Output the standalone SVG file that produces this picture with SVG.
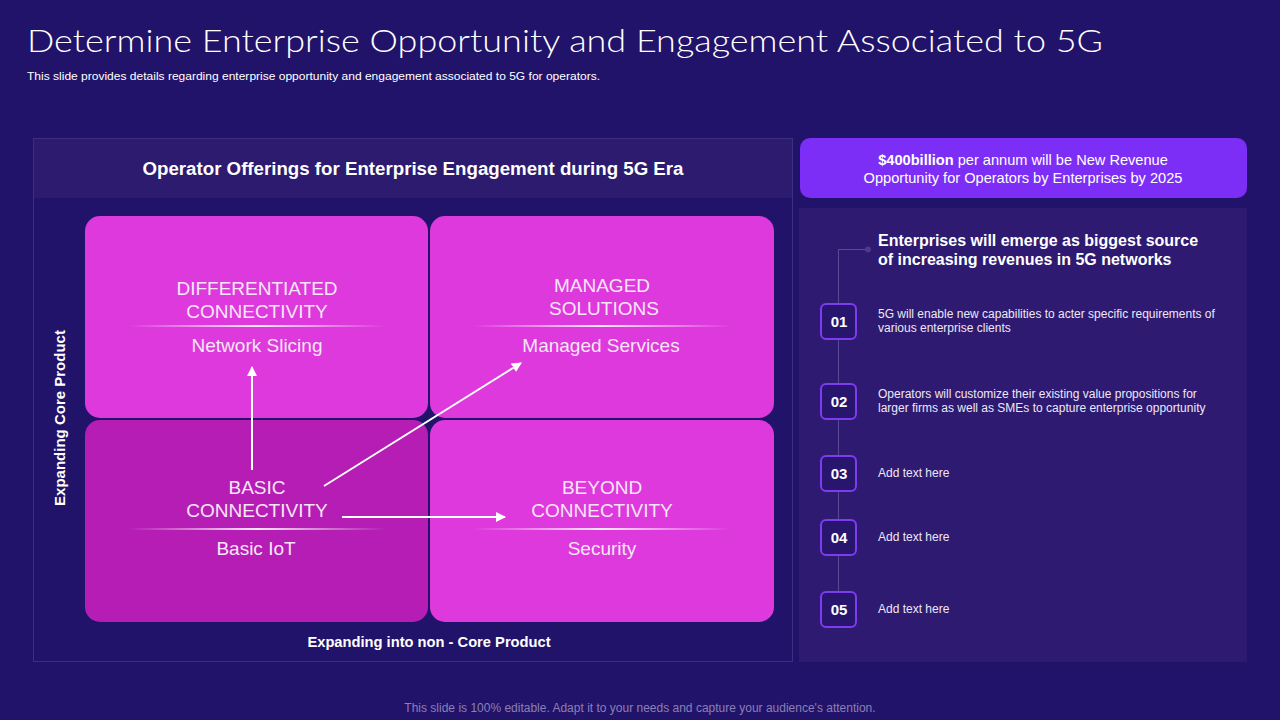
<svg xmlns="http://www.w3.org/2000/svg" width="1280" height="720" viewBox="0 0 1280 720">
<defs>
<linearGradient id="div" x1="0" x2="1" y1="0" y2="0">
<stop offset="0" stop-color="#ffffff" stop-opacity="0"/>
<stop offset="0.5" stop-color="#ffffff" stop-opacity="0.9"/>
<stop offset="1" stop-color="#ffffff" stop-opacity="0"/>
</linearGradient>
<marker id="ah" viewBox="0 0 10 10" refX="9" refY="5" markerWidth="5" markerHeight="5" orient="auto">
<path d="M0,0 L10,5 L0,10 z" fill="#ffffff"/>
</marker>
</defs>
<style>
.t{font-family:"Liberation Sans",Arial,sans-serif;fill:#ffffff}
.q{font-family:"Liberation Sans",Arial,sans-serif;fill:#f7e6f7;font-size:19px;text-anchor:middle}
.b{font-weight:bold}
.badge{fill:#28166e;stroke:#7d3cf0;stroke-width:2}
.num{font-family:"Liberation Sans",Arial,sans-serif;fill:#ffffff;font-size:15px;font-weight:bold;text-anchor:middle}
.item{font-family:"Liberation Sans",Arial,sans-serif;fill:#ece8f8;font-size:12px}
.conn{stroke:#ffffff;stroke-width:2;fill:none;marker-end:url(#ah)}
</style>
<rect width="1280" height="720" fill="#22136a"/>
<g id="title">
<text x="27" y="52" font-family="Lato,'Open Sans',sans-serif" font-weight="300" font-size="32" fill="#ffffff" textLength="1076" lengthAdjust="spacingAndGlyphs">Determine Enterprise Opportunity and Engagement Associated to 5G</text>
<text x="27" y="80" class="t" font-size="11" textLength="573" lengthAdjust="spacingAndGlyphs">This slide provides details regarding enterprise opportunity and engagement associated to 5G for operators.</text>
</g>
<g id="left-panel">
<rect x="33.5" y="138.5" width="759" height="523" fill="#22136a" stroke="#3d2f80" stroke-width="1"/>
<rect x="34" y="139" width="758" height="59" fill="#2c1b6e"/>
<text x="413" y="175" class="t b" font-size="18.7" text-anchor="middle">Operator Offerings for Enterprise Engagement during 5G Era</text>
<text transform="translate(65,418) rotate(-90)" class="t b" font-size="15" text-anchor="middle">Expanding Core Product</text>
<text x="429" y="647" class="t b" font-size="14.7" text-anchor="middle">Expanding into non - Core Product</text>
</g>
<g id="q-differentiated">
<rect x="85" y="216" width="343" height="202" rx="15" fill="#dd39dc"/>
<text x="257" y="295" class="q">DIFFERENTIATED</text>
<text x="257" y="318" class="q">CONNECTIVITY</text>
<rect x="128" y="325" width="258" height="2" fill="url(#div)"/>
<text x="257" y="352" class="q">Network Slicing</text>
</g>
<g id="q-managed">
<rect x="430" y="216" width="344" height="202" rx="15" fill="#dd39dc"/>
<text x="602" y="292" class="q">MANAGED</text>
<text x="604" y="315" class="q">SOLUTIONS</text>
<rect x="472" y="325" width="260" height="2" fill="url(#div)"/>
<text x="601" y="352" class="q">Managed Services</text>
</g>
<g id="q-basic">
<rect x="85" y="420" width="343" height="202" rx="15" fill="#b51db5"/>
<text x="257" y="494" class="q">BASIC</text>
<text x="257" y="517" class="q">CONNECTIVITY</text>
<rect x="128" y="528" width="258" height="2" fill="url(#div)"/>
<text x="256" y="555" class="q">Basic IoT</text>
</g>
<g id="q-beyond">
<rect x="430" y="420" width="344" height="202" rx="15" fill="#dd39dc"/>
<text x="602" y="494" class="q">BEYOND</text>
<text x="602" y="517" class="q">CONNECTIVITY</text>
<rect x="472" y="528" width="260" height="2" fill="url(#div)"/>
<text x="602" y="555" class="q">Security</text>
</g>
<g id="connectors">
<line x1="252" y1="470" x2="252" y2="367" class="conn"/>
<line x1="324" y1="486" x2="521" y2="363" class="conn"/>
<line x1="342" y1="517" x2="505" y2="517" class="conn"/>
</g>
<g id="revenue-box">
<rect x="800" y="138" width="447" height="60" rx="10" fill="#7d2ef6"/>
<text x="1023" y="165" class="t" font-size="14.6" text-anchor="middle" fill="#f4eefe"><tspan font-weight="bold">$400billion</tspan> per annum will be New Revenue</text>
<text x="1023" y="183" class="t" font-size="14.6" text-anchor="middle">Opportunity for Operators by Enterprises by 2025</text>
</g>
<g id="right-panel">
<rect x="799" y="208" width="448" height="454" fill="#2e1a70"/>
<line x1="838.5" y1="250" x2="838.5" y2="610" stroke="#5a4a95" stroke-width="1"/>
<line x1="838" y1="249.5" x2="868" y2="249.5" stroke="#5a4a95" stroke-width="1"/>
<circle cx="868" cy="249.5" r="3" fill="#4b3a8a"/>
<text x="878" y="246" class="t b" font-size="16">Enterprises will emerge as biggest source</text>
<text x="878" y="265" class="t b" font-size="16">of increasing revenues in 5G networks</text>
</g>
<g id="item-01">
<rect x="821" y="304" width="35" height="35" rx="5" class="badge"/>
<text x="839" y="327" class="num">01</text>
<text x="878" y="318" class="item">5G will enable new capabilities to acter specific requirements of</text>
<text x="878" y="332" class="item">various enterprise clients</text>
</g>
<g id="item-02">
<rect x="821" y="384" width="35" height="35" rx="5" class="badge"/>
<text x="839" y="407" class="num">02</text>
<text x="878" y="398" class="item">Operators will customize their existing value propositions for</text>
<text x="878" y="412" class="item">larger firms as well as SMEs to capture enterprise opportunity</text>
</g>
<g id="item-03">
<rect x="821" y="456" width="35" height="35" rx="5" class="badge"/>
<text x="839" y="479" class="num">03</text>
<text x="878" y="477" class="item">Add text here</text>
</g>
<g id="item-04">
<rect x="821" y="520" width="35" height="35" rx="5" class="badge"/>
<text x="839" y="543" class="num">04</text>
<text x="878" y="541" class="item">Add text here</text>
</g>
<g id="item-05">
<rect x="821" y="592" width="35" height="35" rx="5" class="badge"/>
<text x="839" y="615" class="num">05</text>
<text x="878" y="613" class="item">Add text here</text>
</g>
<g id="footer">
<text x="640" y="712" font-family="'Liberation Sans',Arial,sans-serif" font-size="12" fill="#8a80b4" text-anchor="middle">This slide is 100% editable. Adapt it to your needs and capture your audience's attention.</text>
</g>
</svg>
